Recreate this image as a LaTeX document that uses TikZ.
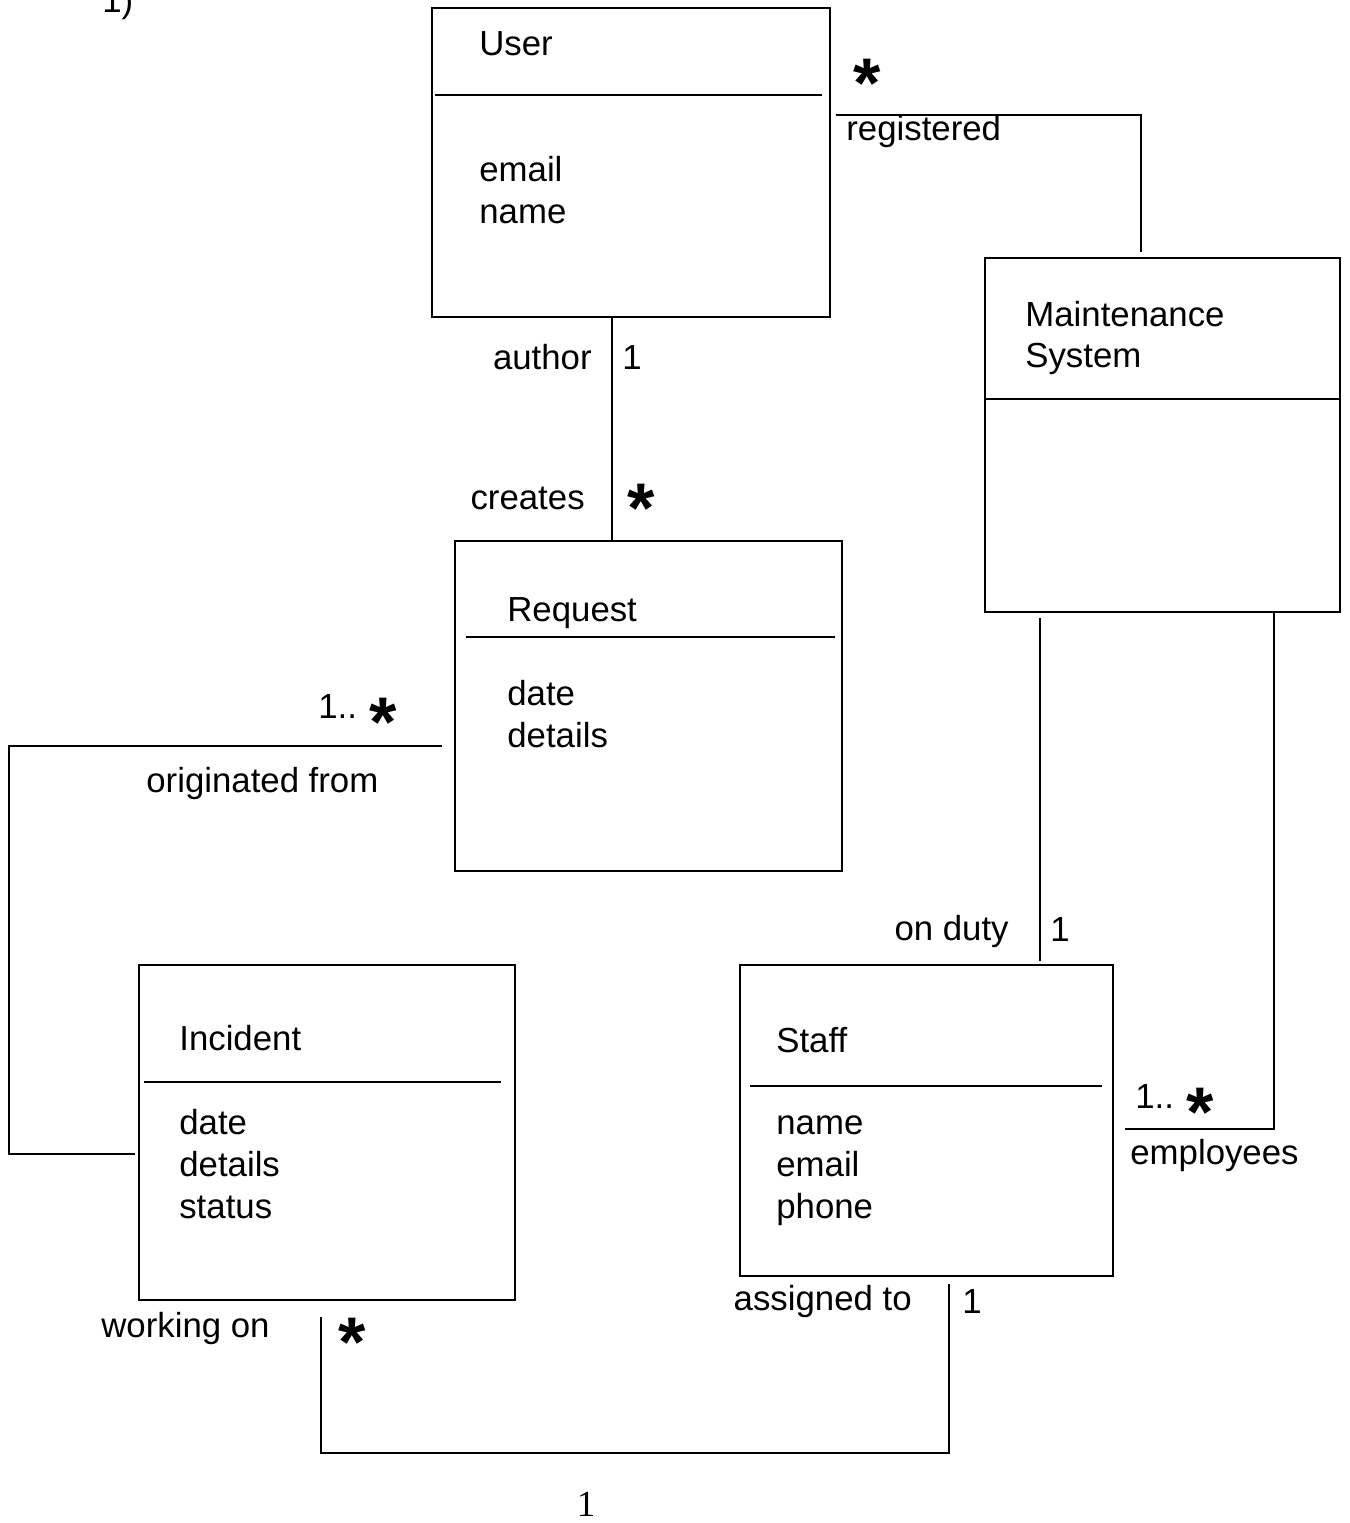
\documentclass[tikz,border=0pt]{standalone}
\usepackage{fontspec}
\setmainfont{Liberation Sans}
\newfontfamily\pagefont{Liberation Serif}
\usetikzlibrary{positioning, fit}

\newcommand{\mstar}{{\fontsize{40}{40}\selectfont\bfseries\smash{\raisebox{-19pt}{*}}}}

\begin{document}
\begin{tikzpicture}[x=0.02cm, y=-0.02cm,
  cls/.style={draw, line width=1.1pt, inner sep=0pt},
  sep/.style={line width=1.1pt},
  assoc/.style={line width=1.1pt},
  txt/.style={font=\fontsize{19.8}{23.9}\selectfont, inner sep=0pt,
    anchor=base west},
  txtr/.style={txt, anchor=base east}
]
  \useasboundingbox (0,0) rectangle (1349,1523);

  % Page marks
  \node[txt] (qnum) at (102,13) {1)};
  \node[font=\pagefont\fontsize{21}{24}\selectfont, inner sep=0pt] (pnum)
    at (586,1504) {1};

  % User
  \node[cls, fit={(432,8) (830,317)}] (user) {};
  \draw[sep] (435,95) -- (822,95);
  \node[txt] (tuser) at (479,56) {User};
  \node[txt] (uemail) at (479,182) {email};
  \node[txt] (uname) at (479,224) {name};

  % Maintenance System
  \node[cls, fit={(985,258) (1340,612)}] (maint) {};
  \draw[sep] (985,399) -- (1340,399);
  \node[txt] (tmaint) at (1025,327) {Maintenance};
  \node[txt] (tsys) at (1025,368) {System};

  % Request
  \node[cls, fit={(455,541) (842,871)}] (request) {};
  \draw[sep] (466,637) -- (835,637);
  \node[txt] (treq) at (507,621) {Request};
  \node[txt] (rdate) at (507,705) {date};
  \node[txt] (rdetails) at (507,747) {details};

  % Incident
  \node[cls, fit={(139,965) (515,1300)}] (incident) {};
  \draw[sep] (144,1082) -- (501,1082);
  \node[txt] (tinc) at (179,1050) {Incident};
  \node[txt] (idate) at (179,1134) {date};
  \node[txt] (idetails) at (179,1176) {details};
  \node[txt] (istatus) at (179,1218) {status};

  % Staff
  \node[cls, fit={(740,965) (1113,1276)}] (staff) {};
  \draw[sep] (750,1086) -- (1102,1086);
  \node[txt] (tstaff) at (776,1052) {Staff};
  \node[txt] (sname) at (776,1134) {name};
  \node[txt] (semail) at (776,1176) {email};
  \node[txt] (sphone) at (776,1218) {phone};

  % Bend points
  \coordinate (regbend) at (1141,115);
  \coordinate (authx) at (612,0);
  \coordinate (origtop) at (9,746);
  \coordinate (origbot) at (9,1154);
  \coordinate (dutyx) at (1040,0);
  \coordinate (empbend) at (1274,1129);
  \coordinate (workbend) at (321,1453);
  \coordinate (assbend) at (949,1453);

  % Associations
  \draw[assoc, shorten <=0.1cm, shorten >=0.1cm]
    (user.east |- regbend) -- (regbend) -- (maint.north -| regbend);
  \draw[assoc] (user.south -| authx) -- (request.north -| authx);
  \draw[assoc, shorten <=0.24cm, shorten >=0.06cm]
    (request.west |- origtop) -- (origtop) -- (origbot)
    -- (incident.west |- origbot);
  \draw[assoc, shorten <=0.1cm, shorten >=0.06cm]
    (maint.south -| dutyx) -- (staff.north -| dutyx);
  \draw[assoc, shorten >=0.22cm]
    (maint.south -| empbend) -- (empbend) -- (staff.east |- empbend);
  \draw[assoc, shorten <=0.32cm, shorten >=0.14cm]
    (incident.south -| workbend) -- (workbend) -- (assbend)
    -- (staff.south -| assbend);

  % Roles and multiplicities
  \node[txt] (lreg) at (846,141) {registered};
  \node[txt] (mreg) at (853,74) {\mstar};
  \node[txtr] (lauthor) at (592,370) {author};
  \node[txt] (mauthor) at (622,370) {1};
  \node[txtr] (lcreates) at (585,509) {creates};
  \node[txt] (mcreates) at (627,499) {\mstar};
  \node[txt] (morig) at (318,718) {1.. \raisebox{3pt}{\mstar}};
  \node[txt] (lorig) at (146,792) {originated from};
  \node[txtr] (lduty) at (1009,940) {on duty};
  \node[txt] (mduty) at (1050,941) {1};
  \node[txt] (memp) at (1135,1108) {1..\hspace{0.35em}\raisebox{3pt}{\mstar}};
  \node[txt] (lemp) at (1130,1164) {employees};
  \node[txt] (lwork) at (101,1337) {working on};
  \node[txt] (mwork) at (338,1333) {\mstar};
  \node[txtr] (lassign) at (912,1310) {assigned to};
  \node[txt] (massign) at (962,1313) {1};
\end{tikzpicture}
\end{document}
